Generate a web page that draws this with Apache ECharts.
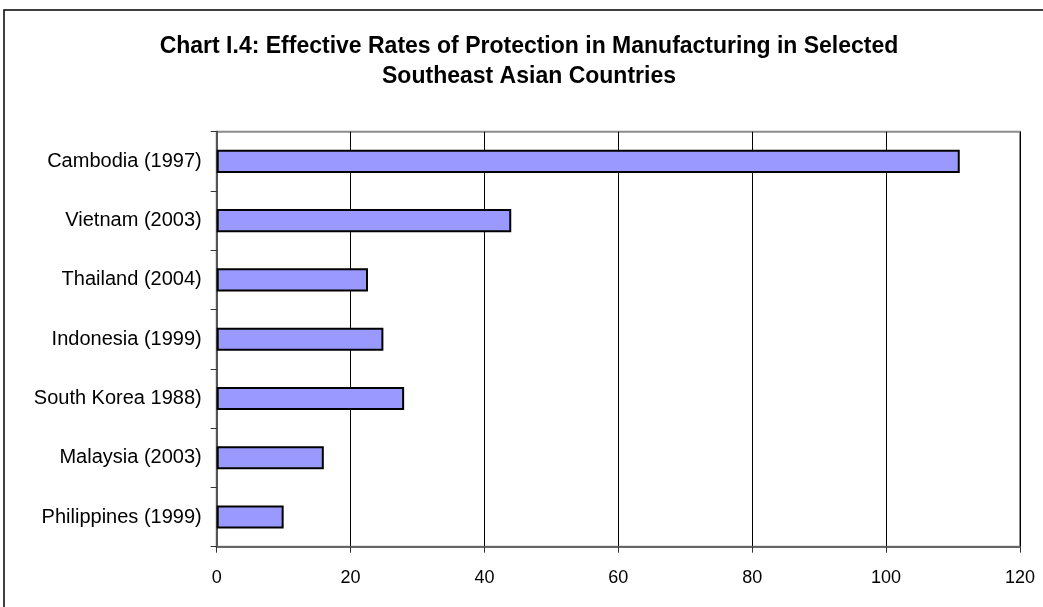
<!DOCTYPE html>
<html>
<head>
<meta charset="utf-8">
<script src="https://cdn.jsdelivr.net/npm/echarts@6/dist/echarts.min.js"></script>
<style>html,body{margin:0;padding:0;background:#fff}#c{width:1043px;height:607px}</style>
</head>
<body>
<div id="c"></div>
<script>
const categories = ["Cambodia (1997)", "Vietnam (2003)", "Thailand (2004)", "Indonesia (1999)", "South Korea 1988)", "Malaysia (2003)", "Philippines (1999)"];
const values = [111, 44, 22.6, 24.9, 28, 16, 10];
const xTicks = [0, 20, 40, 60, 80, 100, 120];

const chart = echarts.init(document.getElementById('c'), null, {renderer: 'canvas'});
chart.setOption({
  animation: false,
  backgroundColor: '#fff',
  title: {
    text: 'Chart I.4: Effective Rates of Protection in Manufacturing in Selected\nSoutheast Asian Countries',
    left: 524, top: 27, textAlign: 'center',
    textStyle: {fontFamily: 'Liberation Sans, Arial', fontWeight: 'bold', fontSize: 23, lineHeight: 30, color: '#000'}
  },
  graphic: [{
    type: 'rect', shape: {x: 4, y: 10, width: 1100, height: 700},
    style: {fill: 'none', stroke: '#000', lineWidth: 1.5}, silent: true
  }],
  grid: {left: 216.7, right: 23, top: 131.7, bottom: 60.3, show: true, borderColor: '#8c8c8c', borderWidth: 2, backgroundColor: 'transparent'},
  xAxis: {
    type: 'value', min: xTicks[0], max: xTicks[xTicks.length - 1], interval: 20,
    axisLine: {show: true, lineStyle: {color: '#666', width: 2}},
    axisTick: {show: true, length: 6, lineStyle: {color: '#333', width: 1}},
    axisLabel: {margin: 22, fontFamily: 'Liberation Sans, Arial', fontSize: 18, color: '#000'},
    splitLine: {show: true, lineStyle: {color: '#000', width: 1}}
  },
  yAxis: {
    type: 'category', data: categories, inverse: true,
    axisLine: {show: true, lineStyle: {color: '#555', width: 2}},
    axisTick: {show: true, length: 6, alignWithLabel: false, lineStyle: {color: '#333', width: 1}},
    axisLabel: {margin: 15, fontFamily: 'Liberation Sans, Arial', fontSize: 20, color: '#000'},
    splitLine: {show: false}
  },
  series: [{
    type: 'bar', data: values, barCategoryGap: '61%',
    itemStyle: {color: '#9999ff', borderColor: '#000', borderWidth: 2}
  }]
});
</script>
</body>
</html>
